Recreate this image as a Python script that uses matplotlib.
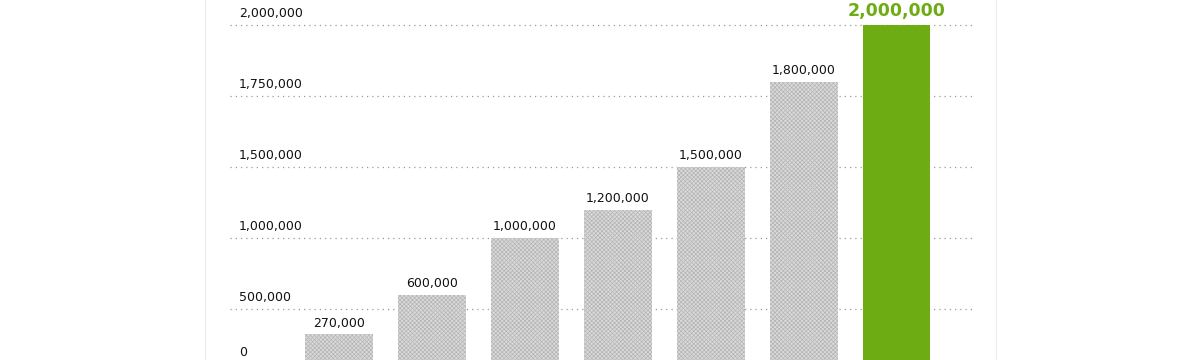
import numpy as np
import matplotlib.pyplot as plt

# data
stages = ['1', '2', '3', '4', '5', '6', '7']
values = [270000, 600000, 1000000, 1200000, 1500000, 1800000, 2000000]
tick_values = [0, 500000, 1000000, 1500000, 1750000, 2000000]
tick_labels = ['0', '500,000', '1,000,000', '1,500,000', '1,750,000', '2,000,000']

gray_face = '#dadada'
gray_hatch = '#b4b4b4'
green = '#6eac14'

# the axis is not linear: gridlines are (almost) evenly spaced
# even though the tick values are not
grid_steps = [0, 0.78, 1.78, 2.78, 3.78, 4.78]
step_px = 71
zero_px = 309 + grid_steps[1] * step_px  # pixel row of the zero line


def piecewise(x, xs, ys):
    x = np.asarray(x, dtype=float)
    out = np.interp(x, xs, ys)
    lo = (ys[1] - ys[0]) / (xs[1] - xs[0])
    hi = (ys[-1] - ys[-2]) / (xs[-1] - xs[-2])
    out = np.where(x < xs[0], ys[0] + (x - xs[0]) * lo, out)
    out = np.where(x > xs[-1], ys[-1] + (x - xs[-1]) * hi, out)
    return out


def forward(v):
    return piecewise(v, tick_values, grid_steps)


def inverse(p):
    return piecewise(p, grid_steps, tick_values)


plt.rcParams['font.family'] = 'DejaVu Sans'
plt.rcParams['hatch.linewidth'] = 0.5

fig = plt.figure(figsize=(12, 3.6), dpi=100)
ax = fig.add_axes([205 / 1200, 0, 791 / 1200, 1])
ax.set_yscale('function', functions=(forward, inverse))

x = np.arange(len(stages))
colors = [gray_face] * (len(values) - 1) + [green]
bars = ax.bar(x, values, width=0.73, color=colors, linewidth=0, zorder=2)
for b in bars[:-1]:
    b.set_hatch('xxxxxxxx')
    b.set_edgecolor(gray_hatch)

# dotted gridlines with labels sitting above them
ax.hlines(tick_values, -1.17, 6.83, colors='#9a9a9a', linewidth=0.9,
          linestyles=(0, (1, 3.2)), zorder=1)
for v, lab in zip(tick_values, tick_labels):
    ax.annotate(lab, (-1.075, v), xytext=(0, 6.0), textcoords='offset points',
                ha='left', va='baseline', fontsize=9, color='#111111',
                annotation_clip=False)

# value labels
for xi, v in zip(x[:-1], values[:-1]):
    ax.annotate(f'{v:,}', (xi, v), xytext=(0, 5.5), textcoords='offset points',
                ha='center', va='baseline', fontsize=9, color='#111111')
ax.annotate(f'{values[-1]:,}', (x[-1], values[-1]), xytext=(0, 6.5),
            textcoords='offset points', ha='center', va='baseline',
            fontsize=12.5, fontweight='bold', color=green)

ax.set_xlim(-1.441, 7.07)
ax.set_ylim(inverse((zero_px - 360) / step_px), inverse(zero_px / step_px))
ax.set_xticks([])
ax.set_yticks([])
ax.minorticks_off()
ax.spines['top'].set_visible(False)
ax.spines['bottom'].set_visible(False)
for s in ['left', 'right']:
    ax.spines[s].set_color('#ebebeb')
    ax.spines[s].set_linewidth(0.8)

fig.savefig('out.png', dpi=100)
